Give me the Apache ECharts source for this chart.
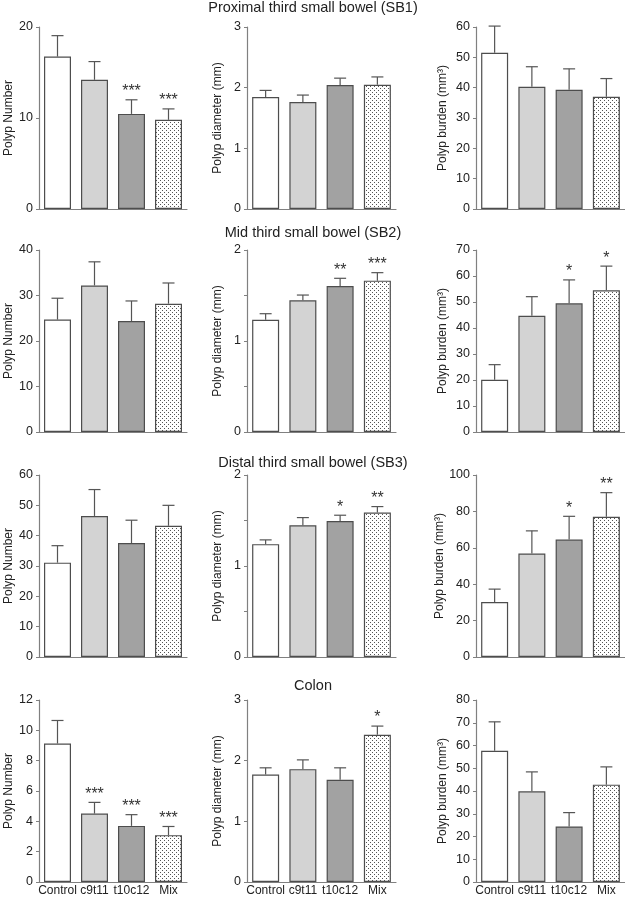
<!DOCTYPE html>
<html>
<head>
<meta charset="utf-8">
<script src="https://cdn.jsdelivr.net/npm/echarts@6/dist/echarts.min.js"></script>
<style>
html,body{margin:0;padding:0;background:#fff;}
#chart{width:625px;height:897px;}
</style>
</head>
<body>
<div id="chart"></div>
<script>
// ---------- data ----------
const categories = ['Control', 'c9t11', 't10c12', 'Mix'];
const rowTitles = ['Proximal third small bowel (SB1)', 'Mid third small bowel (SB2)', 'Distal third small bowel (SB3)', 'Colon'];
const yNames = ['Polyp Number', 'Polyp diameter (mm)', 'Polyp burden (mm\u00b3)'];

const sb1Number = [16.75, 14.2, 10.45, 9.8];
const sb1NumberSem = [2.3, 2.0, 1.55, 1.2];
const sb1NumberSig = ['', '', '***', '***'];
const sb1Diameter = [1.845, 1.763, 2.042, 2.047];
const sb1DiameterSem = [0.11, 0.115, 0.115, 0.13];
const sb1DiameterSig = ['', '', '', ''];
const sb1Burden = [51.5, 40.3, 39.3, 37.0];
const sb1BurdenSem = [8.8, 6.6, 6.9, 6.0];
const sb1BurdenSig = ['', '', '', ''];

const sb2Number = [24.7, 32.2, 24.4, 28.2];
const sb2NumberSem = [4.7, 5.2, 4.4, 4.55];
const sb2NumberSig = ['', '', '', ''];
const sb2Diameter = [1.234, 1.447, 1.604, 1.663];
const sb2DiameterSem = [0.066, 0.058, 0.085, 0.088];
const sb2DiameterSig = ['', '', '**', '***'];
const sb2Burden = [20.1, 44.7, 49.5, 54.5];
const sb2BurdenSem = [5.8, 7.35, 9.0, 9.3];
const sb2BurdenSig = ['', '', '*', '*'];

const sb3Number = [31.1, 46.5, 37.55, 43.25];
const sb3NumberSem = [5.6, 8.7, 7.55, 6.75];
const sb3NumberSig = ['', '', '', ''];
const sb3Diameter = [1.24, 1.448, 1.495, 1.587];
const sb3DiameterSem = [0.047, 0.084, 0.063, 0.066];
const sb3DiameterSig = ['', '', '*', '**'];
const sb3Burden = [30.2, 56.9, 64.5, 77.1];
const sb3BurdenSem = [7.1, 12.4, 12.8, 13.2];
const sb3BurdenSig = ['', '', '*', '**'];

const colonNumber = [9.13, 4.51, 3.70, 3.09];
const colonNumberSem = [1.52, 0.74, 0.74, 0.57];
const colonNumberSig = ['', '***', '***', '***'];
const colonDiameter = [1.773, 1.86, 1.686, 2.428];
const colonDiameterSem = [0.109, 0.153, 0.196, 0.142];
const colonDiameterSig = ['', '', '', '*'];
const colonBurden = [57.7, 39.85, 24.4, 42.8];
const colonBurdenSem = [12.7, 8.55, 6.1, 7.8];
const colonBurdenSig = ['', '', '', ''];

// y-axis ranges [max, interval] per panel (row-major)
const yMax = [20, 3, 60, 40, 2, 70, 60, 2, 100, 12, 3, 80];
const yStep = [10, 1, 10, 10, 0.5, 10, 10, 0.5, 20, 2, 1, 10];

const panels = [
  [sb1Number, sb1NumberSem, sb1NumberSig], [sb1Diameter, sb1DiameterSem, sb1DiameterSig], [sb1Burden, sb1BurdenSem, sb1BurdenSig],
  [sb2Number, sb2NumberSem, sb2NumberSig], [sb2Diameter, sb2DiameterSem, sb2DiameterSig], [sb2Burden, sb2BurdenSem, sb2BurdenSig],
  [sb3Number, sb3NumberSem, sb3NumberSig], [sb3Diameter, sb3DiameterSem, sb3DiameterSig], [sb3Burden, sb3BurdenSem, sb3BurdenSig],
  [colonNumber, colonNumberSem, colonNumberSig], [colonDiameter, colonDiameterSem, colonDiameterSig], [colonBurden, colonBurdenSem, colonBurdenSig]
];

// ---------- layout / style ----------
const FONT = '"Liberation Sans", Arial, Helvetica, sans-serif';
const rowTop = [27, 250, 475, 700];
const rowH = [182, 182, 182, 184];
const colLeft = [39, 247, 476];
const colW = [148, 149, 149];
const nameGaps = [24, 23, 27];
const titleTop = [0, 225, 455, 678];

const pat = document.createElement('canvas');
pat.width = 4; pat.height = 4;
(function () {
  const c = pat.getContext('2d');
  c.fillStyle = '#ffffff'; c.fillRect(0, 0, 4, 4);
  c.fillStyle = '#555555';
  c.fillRect(0, 0, 1, 1); c.fillRect(2, 2, 1, 1);
})();
const fills = ['#ffffff', '#d3d3d3', '#a2a2a2', { image: pat, repeat: 'repeat' }];

const grids = [], xAxes = [], yAxes = [], series = [], titles = [];
rowTitles.forEach((t, r) => {
  titles.push({ text: t, left: 313, top: titleTop[r], textAlign: 'center', padding: 0,
    textStyle: { fontFamily: FONT, fontSize: 14.5, fontWeight: 'normal', color: '#222', lineHeight: 16 } });
});

panels.forEach((p, i) => {
  const r = Math.floor(i / 3), c = i % 3;
  grids.push({ left: colLeft[c], top: rowTop[r], width: colW[c], height: rowH[r], containLabel: false });
  xAxes.push({
    type: 'category', gridIndex: i, data: categories,
    axisLine: { show: true, lineStyle: { color: '#808080', width: 1.2 } },
    axisTick: { show: false },
    axisLabel: { show: r === 3, fontFamily: FONT, fontSize: 12, color: '#222', margin: 3, interval: 0 }
  });
  const step = yStep[i];
  yAxes.push({
    type: 'value', gridIndex: i, min: 0, max: yMax[i], interval: step,
    name: yNames[c], nameLocation: 'middle', nameGap: nameGaps[c],
    nameTextStyle: { fontFamily: FONT, fontSize: 12, color: '#222' },
    axisLine: { show: true, lineStyle: { color: '#808080', width: 1.2 } },
    axisTick: { show: true, length: 3, lineStyle: { color: '#808080' } },
    splitLine: { show: false },
    axisLabel: { fontFamily: FONT, fontSize: 12.5, color: '#222', margin: 6,
      formatter: v => (Math.abs(v - Math.round(v)) < 1e-9 ? String(Math.round(v)) : '') }
  });
  const [vals, sems, sigs] = p;
  series.push({
    type: 'bar', xAxisIndex: i, yAxisIndex: i, barWidth: 27, silent: true,
    data: vals.map((v, k) => ({ value: v, itemStyle: { color: fills[k] } })),
    itemStyle: { borderColor: '#4d4d4d', borderWidth: 1.2 }
  });
  series.push({
    type: 'custom', xAxisIndex: i, yAxisIndex: i, silent: true, z: 5,
    data: vals.map((v, k) => [k, v, sems[k]]),
    renderItem: (params, api) => {
      const k = api.value(0), v = api.value(1), e = api.value(2);
      const b = api.coord([k, v]);
      const t = api.coord([k, v + e]);
      const children = [
        { type: 'line', shape: { x1: b[0], y1: b[1], x2: t[0], y2: t[1] }, style: { stroke: '#555', lineWidth: 1.2 } },
        { type: 'line', shape: { x1: t[0] - 6, y1: t[1], x2: t[0] + 6, y2: t[1] }, style: { stroke: '#555', lineWidth: 1.2 } }
      ];
      const s = sigs[params.dataIndex];
      if (s) {
        children.push({ type: 'text', style: { text: s, x: t[0], y: t[1] - 8, align: 'center', verticalAlign: 'middle',
          fontFamily: FONT, fontSize: 16, fill: '#333' } });
      }
      return { type: 'group', children };
    }
  });
});

const chart = echarts.init(document.getElementById('chart'), null, { renderer: 'canvas' });
chart.setOption({
  animation: false,
  backgroundColor: '#ffffff',
  title: titles,
  grid: grids, xAxis: xAxes, yAxis: yAxes, series
});
</script>
</body>
</html>
